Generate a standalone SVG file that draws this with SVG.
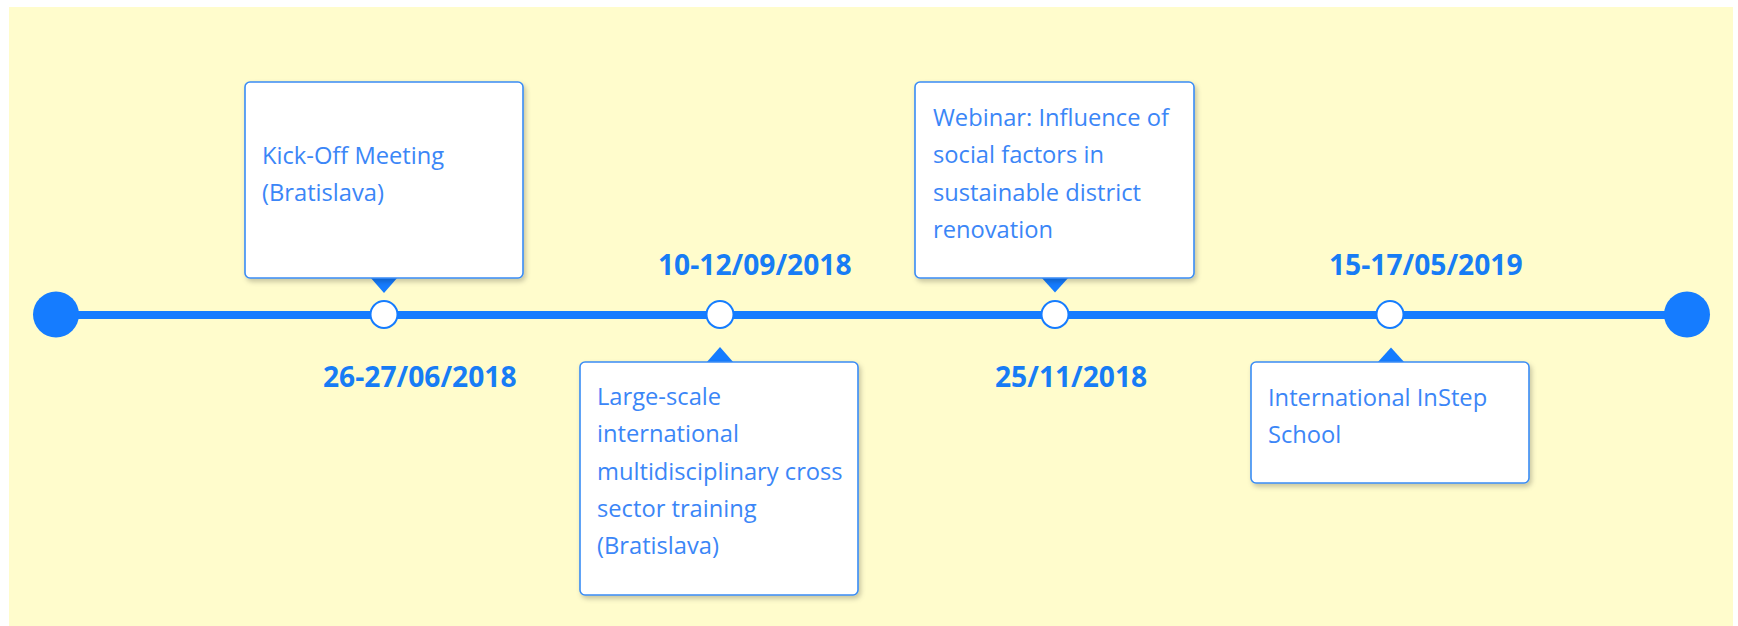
<svg xmlns="http://www.w3.org/2000/svg" width="1738" height="626" viewBox="0 0 1738 626">
<defs>
<filter id="sh" x="-10%" y="-10%" width="125%" height="130%">
<feDropShadow dx="2" dy="3" stdDeviation="2.5" flood-color="#000" flood-opacity="0.22"/>
</filter>
<style>
.box{fill:#fff;stroke:#3a8cf5;stroke-width:1.6;filter:url(#sh)}
.ptr{fill:#157cff}
.ms{fill:#fff;stroke:#157cff;stroke-width:2}
.end{fill:#157cff}
.txt{font-family:"Open Sans","Noto Sans","Liberation Sans",sans-serif;font-size:23.7px;fill:#3b86f7}
.date{font-family:"Open Sans","Noto Sans","Liberation Sans",sans-serif;font-size:28.2px;font-weight:bold;fill:#177cf5}
</style>
</defs>
<rect x="0" y="0" width="1738" height="626" fill="#ffffff"/>
<rect x="9" y="7" width="1724" height="619" fill="#fffccc"/>
<g id="connectors">
<line x1="56" y1="315" x2="1687" y2="315" stroke="#157cff" stroke-width="8"/>
</g>
<g id="start"><circle class="end" cx="56" cy="314.5" r="23"/></g>
<g id="end"><circle class="end" cx="1687" cy="314.5" r="23"/></g>
<g id="event1">
<polygon class="ptr" points="370,277 398,277 384,293"/>
<rect class="box" x="245" y="82" width="278" height="196" rx="5"/>
<text class="txt" x="262" y="164">Kick-Off Meeting</text>
<text class="txt" x="262" y="201">(Bratislava)</text>
<circle class="ms" cx="384" cy="314.5" r="13.5"/>
<text class="date" x="323" y="387">26-27/06/2018</text>
</g>
<g id="event2">
<polygon class="ptr" points="706,363 734,363 720,347"/>
<rect class="box" x="580" y="362" width="278" height="233" rx="5"/>
<text class="txt" x="597" y="405">Large-scale</text>
<text class="txt" x="597" y="442">international</text>
<text class="txt" x="597" y="479.5">multidisciplinary cross</text>
<text class="txt" x="597" y="517">sector training</text>
<text class="txt" x="597" y="554">(Bratislava)</text>
<circle class="ms" cx="720" cy="314.5" r="13.5"/>
<text class="date" x="658" y="275">10-12/09/2018</text>
</g>
<g id="event3">
<polygon class="ptr" points="1041,277 1069,277 1055,292.5"/>
<rect class="box" x="915" y="82" width="279" height="196" rx="5"/>
<text class="txt" x="933" y="126">Webinar: Influence of</text>
<text class="txt" x="933" y="163">social factors in</text>
<text class="txt" x="933" y="200.5">sustainable district</text>
<text class="txt" x="933" y="237.5">renovation</text>
<circle class="ms" cx="1055" cy="314.5" r="13.5"/>
<text class="date" x="995" y="386.5">25/11/2018</text>
</g>
<g id="event4">
<polygon class="ptr" points="1377,363 1405,363 1391,347.5"/>
<rect class="box" x="1251" y="362" width="278" height="121" rx="5"/>
<text class="txt" x="1268" y="405.5">International InStep</text>
<text class="txt" x="1268" y="442.5">School</text>
<circle class="ms" cx="1390" cy="314.5" r="13.5"/>
<text class="date" x="1329" y="275">15-17/05/2019</text>
</g>
</svg>
